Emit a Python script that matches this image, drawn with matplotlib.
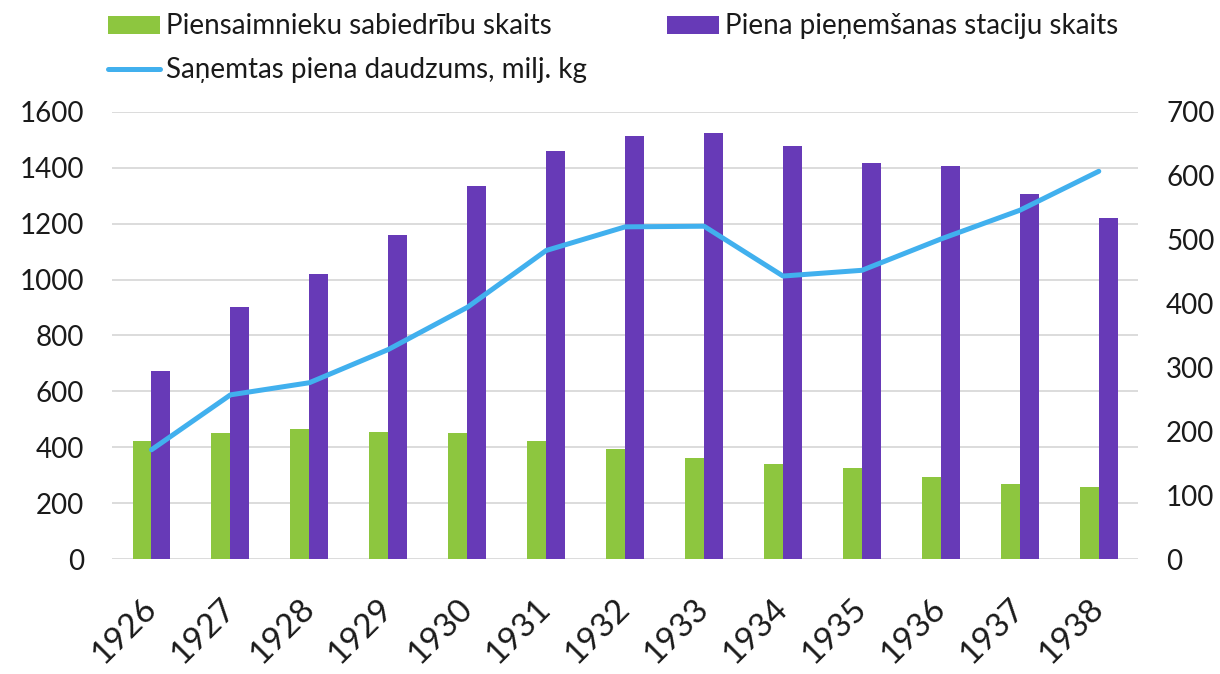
import matplotlib.pyplot as plt
import numpy as np

plt.rcParams['font.family'] = ['Lato', 'DejaVu Sans']

years = ['1926', '1927', '1928', '1929', '1930', '1931', '1932',
         '1933', '1934', '1935', '1936', '1937', '1938']
sabiedribas = [423, 452, 466, 455, 452, 423, 394, 362, 340, 326, 294, 269, 258]
stacijas = [674, 903, 1021, 1161, 1333, 1459, 1513, 1523, 1477, 1416, 1405, 1305, 1222]
piens = [171, 257, 276, 328, 394, 483, 520, 521, 443, 452, 501, 546, 607]

green = '#8DC63F'
purple = '#673AB7'
blue = '#41B0EE'
grid = '#D9D9D9'
txt = '#1a1a1a'

fig = plt.figure(figsize=(12.2, 6.74), dpi=100)
ax = fig.add_axes([0.0918, 0.1706, 0.8412, 0.6634])
x = np.arange(len(years))
w = 0.24

b1 = ax.bar(x - w / 2, sabiedribas, w, color=green, label='Piensaimnieku sabiedrību skaits', zorder=2)
b2 = ax.bar(x + w / 2, stacijas, w, color=purple, label='Piena pieņemšanas staciju skaits', zorder=2)
ax.set_ylim(0, 1600)
ax.set_yticks(range(0, 1601, 200))
ax.set_xlim(-0.5, len(years) - 0.5)
ax.set_xticks(x)
ax.set_xticklabels(years, rotation=45, ha='right', va='center', rotation_mode='anchor', fontsize=24)
ax.yaxis.grid(True, color=grid, linewidth=1.3, zorder=0)
ax.set_axisbelow(True)
for s in ax.spines.values():
    s.set_visible(False)
ax.tick_params(length=0, labelsize=20, colors=txt)
ax.tick_params(axis='x', labelsize=24, pad=32)
ax.tick_params(axis='y', pad=20)

ax2 = ax.twinx()
ln, = ax2.plot(x, piens, color=blue, linewidth=3.6, label='Saņemtas piena daudzums, milj. kg',
               solid_capstyle='round', zorder=3)
ax2.set_ylim(0, 700)
ax2.set_yticks(range(0, 701, 100))
for s in ax2.spines.values():
    s.set_visible(False)
ax2.tick_params(length=0, labelsize=20, colors=txt, pad=20)

# two legends so the columns sit where they do in the original
leg_kw = dict(loc='upper left', frameon=False, fontsize=20, handlelength=1.87,
              handleheight=0.61, handletextpad=0.22, labelspacing=0.63,
              borderpad=0, borderaxespad=0, labelcolor=txt)
fig.legend([b1, ln], [b1.get_label(), ln.get_label()],
           bbox_to_anchor=(0.0885, 0.98), **leg_kw)
fig.legend([b2], [b2.get_label()], bbox_to_anchor=(0.5467, 0.98), **leg_kw)

fig.savefig('out.png', dpi=100)
